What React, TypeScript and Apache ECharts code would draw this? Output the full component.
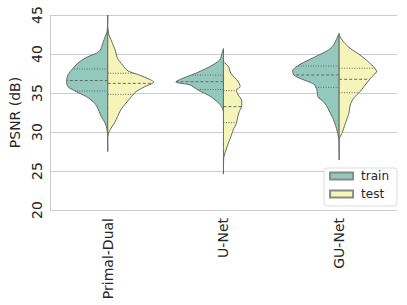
import React, { useEffect, useRef } from "react";
import * as echarts from "echarts";

const categories = ["Primal-Dual", "U-Net", "GU-Net"];
const seriesNames = ["train", "test"];
const yTicks = [20, 25, 30, 35, 40, 45];

// KDE profiles: [PSNR, relative density] (1 = full half width)
const pdTrain = [[45.0, 0], [44.0, 0.004], [42.86, 0.015], [42.01, 0.07], [41.15, 0.12], [40.51, 0.16], [40.09, 0.25], [39.65, 0.43], [39.01, 0.61], [38.17, 0.75], [37.31, 0.86], [36.45, 0.89], [35.81, 0.86], [35.17, 0.68], [34.53, 0.46], [33.68, 0.28], [32.82, 0.2], [31.96, 0.14], [31.32, 0.07], [30.68, 0.03], [29.83, 0.006], [28.5, 0.002], [27.5, 0]];
const pdTest = [[43.3, 0], [42.65, 0.015], [41.58, 0.086], [40.51, 0.16], [39.45, 0.21], [38.59, 0.32], [37.82, 0.44], [37.31, 0.68], [36.67, 0.93], [36.37, 1.0], [35.81, 0.8], [35.17, 0.61], [34.53, 0.51], [33.68, 0.39], [32.82, 0.28], [31.96, 0.21], [31.32, 0.16], [30.47, 0.07], [29.83, 0.01], [29.5, 0]];
const unTrain = [[40.7, 0], [40.09, 0.03], [39.23, 0.08], [38.37, 0.3], [37.53, 0.6], [36.88, 0.88], [36.4, 1.03], [36.03, 0.72], [35.38, 0.55], [34.53, 0.27], [33.68, 0.1], [33.04, 0.02], [32.6, 0]];
const unTest = [[39.01, 0], [38.37, 0.11], [37.53, 0.16], [36.45, 0.32], [35.81, 0.36], [35.38, 0.28], [34.74, 0.32], [34.1, 0.39], [33.24, 0.39], [32.6, 0.34], [31.96, 0.31], [31.12, 0.28], [30.26, 0.21], [29.4, 0.16], [28.33, 0.09], [27.05, 0.02], [26.63, 0.005], [24.6, 0]];
const guTrain = [[42.65, 0], [42.01, 0.05], [41.15, 0.12], [40.51, 0.23], [39.87, 0.44], [39.23, 0.66], [38.59, 0.87], [37.95, 1.0], [37.31, 0.98], [36.76, 0.8], [36.15, 0.55], [35.38, 0.48], [34.53, 0.46], [33.88, 0.34], [33.24, 0.26], [32.4, 0.19], [31.54, 0.12], [30.68, 0.07], [29.83, 0.03], [28.97, 0.006], [26.4, 0]];
const guTest = [[42.44, 0], [41.58, 0.09], [40.73, 0.24], [39.87, 0.45], [39.01, 0.63], [38.17, 0.77], [37.73, 0.81], [37.09, 0.71], [36.24, 0.59], [35.17, 0.45], [34.32, 0.31], [33.46, 0.24], [32.4, 0.21], [31.54, 0.16], [30.68, 0.11], [29.83, 0.06], [29.19, 0]];

// Quartiles [Q1, median, Q3]
const trainQuartiles = [[35.26, 36.6, 38.08], [35.45, 36.45, 37.3], [35.73, 37.31, 38.46]];
const testQuartiles = [[34.83, 36.24, 37.53], [31.2, 33.25, 35.3], [35.04, 36.76, 38.17]];

const trainProfiles = [pdTrain, unTrain, guTrain];
const testProfiles = [pdTest, unTest, guTest];

const GRAY = "#666666";
const TEXT = "#262626";
const FONT = "DejaVu Sans";

function densityAt(prof: number[][], v: number): number {
  for (let k = 0; k < prof.length - 1; k++) {
    const a = prof[k], b = prof[k + 1];
    if ((v <= a[0] && v >= b[0]) || (v >= a[0] && v <= b[0])) {
      const t = (v - a[0]) / (b[0] - a[0] || 1);
      return a[1] + t * (b[1] - a[1]);
    }
  }
  return 0;
}

function makeRender(side: number, profiles: number[][][], quartiles: number[][], fill: string) {
  return (params: any, api: any) => {
    const i = params.dataIndex;
    const prof = profiles[i];
    const band = api.size([1, 0])[0];
    const scale = band * 0.4;
    const cx = api.coord([i, 0])[0];
    const pts: number[][] = [];
    pts.push([cx, api.coord([i, prof[0][0]])[1]]);
    for (const [v, d] of prof) {
      pts.push([cx + side * d * scale, api.coord([i, v])[1]]);
    }
    pts.push([cx, api.coord([i, prof[prof.length - 1][0]])[1]]);
    const children: any[] = [
      {
        type: "polygon",
        shape: { points: pts, smooth: 0.25 },
        style: { fill, stroke: GRAY, lineWidth: 1 },
      },
    ];
    quartiles[i].forEach((q, qi) => {
      const w = densityAt(prof, q) * scale;
      const y = api.coord([i, q])[1];
      children.push({
        type: "line",
        shape: { x1: cx, y1: y, x2: cx + side * w, y2: y },
        style: {
          stroke: GRAY,
          lineWidth: 1,
          lineDash: qi === 1 ? [3, 2] : [1, 1.5],
        },
      });
    });
    return { type: "group", children };
  };
}

export default function App() {
  const ref = useRef<HTMLDivElement>(null);
  useEffect(() => {
    if (!ref.current) return;
    const chart = echarts.init(ref.current, undefined, { renderer: "svg" });
    const trainColor = "#93c9bd";
    const testColor = "#f5f5ba";
    chart.setOption({
      animation: false,
      backgroundColor: "#ffffff",
      grid: { left: 47, right: 10, top: 15, bottom: 95, containLabel: false },
      legend: {
        data: seriesNames,
        orient: "vertical",
        right: 10,
        top: 168,
        icon: "rect",
        itemWidth: 23,
        itemHeight: 7,
        itemGap: 6,
        padding: [2, 8, 6, 5],
        borderColor: "#dddddd",
        borderWidth: 1,
        borderRadius: 3,
        backgroundColor: "#ffffff",
        textStyle: { fontFamily: FONT, fontSize: 12, color: TEXT, padding: [0, 0, 0, 3] },
      },
      xAxis: {
        type: "category",
        data: categories,
        boundaryGap: true,
        axisLine: { show: false },
        axisTick: { show: false },
        splitLine: { show: false },
        axisLabel: { rotate: 90, margin: 8, fontFamily: FONT, fontSize: 14, color: TEXT },
      },
      yAxis: {
        type: "value",
        min: 20,
        max: 45,
        interval: 5,
        name: "PSNR (dB)",
        nameLocation: "middle",
        nameGap: 23,
        nameTextStyle: { fontFamily: FONT, fontSize: 14, color: TEXT },
        axisLine: { show: true, lineStyle: { color: "#cccccc", width: 1 } },
        axisTick: { show: false },
        splitLine: { show: true, lineStyle: { color: "#cccccc", width: 1 } },
        axisLabel: {
          rotate: 90,
          margin: 6,
          fontFamily: FONT,
          fontSize: 14,
          color: TEXT,
          formatter: (v: number) => (yTicks.includes(v) ? String(v) : ""),
        },
      },
      series: [
        {
          name: "train",
          type: "custom",
          coordinateSystem: "cartesian2d",
          itemStyle: { color: trainColor, borderColor: "#8a8a8a", borderWidth: 0.5 },
          encode: { x: 0, y: 1 },
          data: categories.map((_, i) => [i, trainQuartiles[i][1]]),
          renderItem: makeRender(-1, trainProfiles, trainQuartiles, trainColor),
          z: 2,
        },
        {
          name: "test",
          type: "custom",
          coordinateSystem: "cartesian2d",
          itemStyle: { color: testColor, borderColor: "#8a8a8a", borderWidth: 0.5 },
          encode: { x: 0, y: 1 },
          data: categories.map((_, i) => [i, testQuartiles[i][1]]),
          renderItem: makeRender(1, testProfiles, testQuartiles, testColor),
          z: 2,
        },
      ],
    });
    return () => chart.dispose();
  }, []);
  return (
    <div
      ref={ref}
      style={{ position: "fixed", left: 0, top: 0, width: 407, height: 305 }}
    />
  );
}
